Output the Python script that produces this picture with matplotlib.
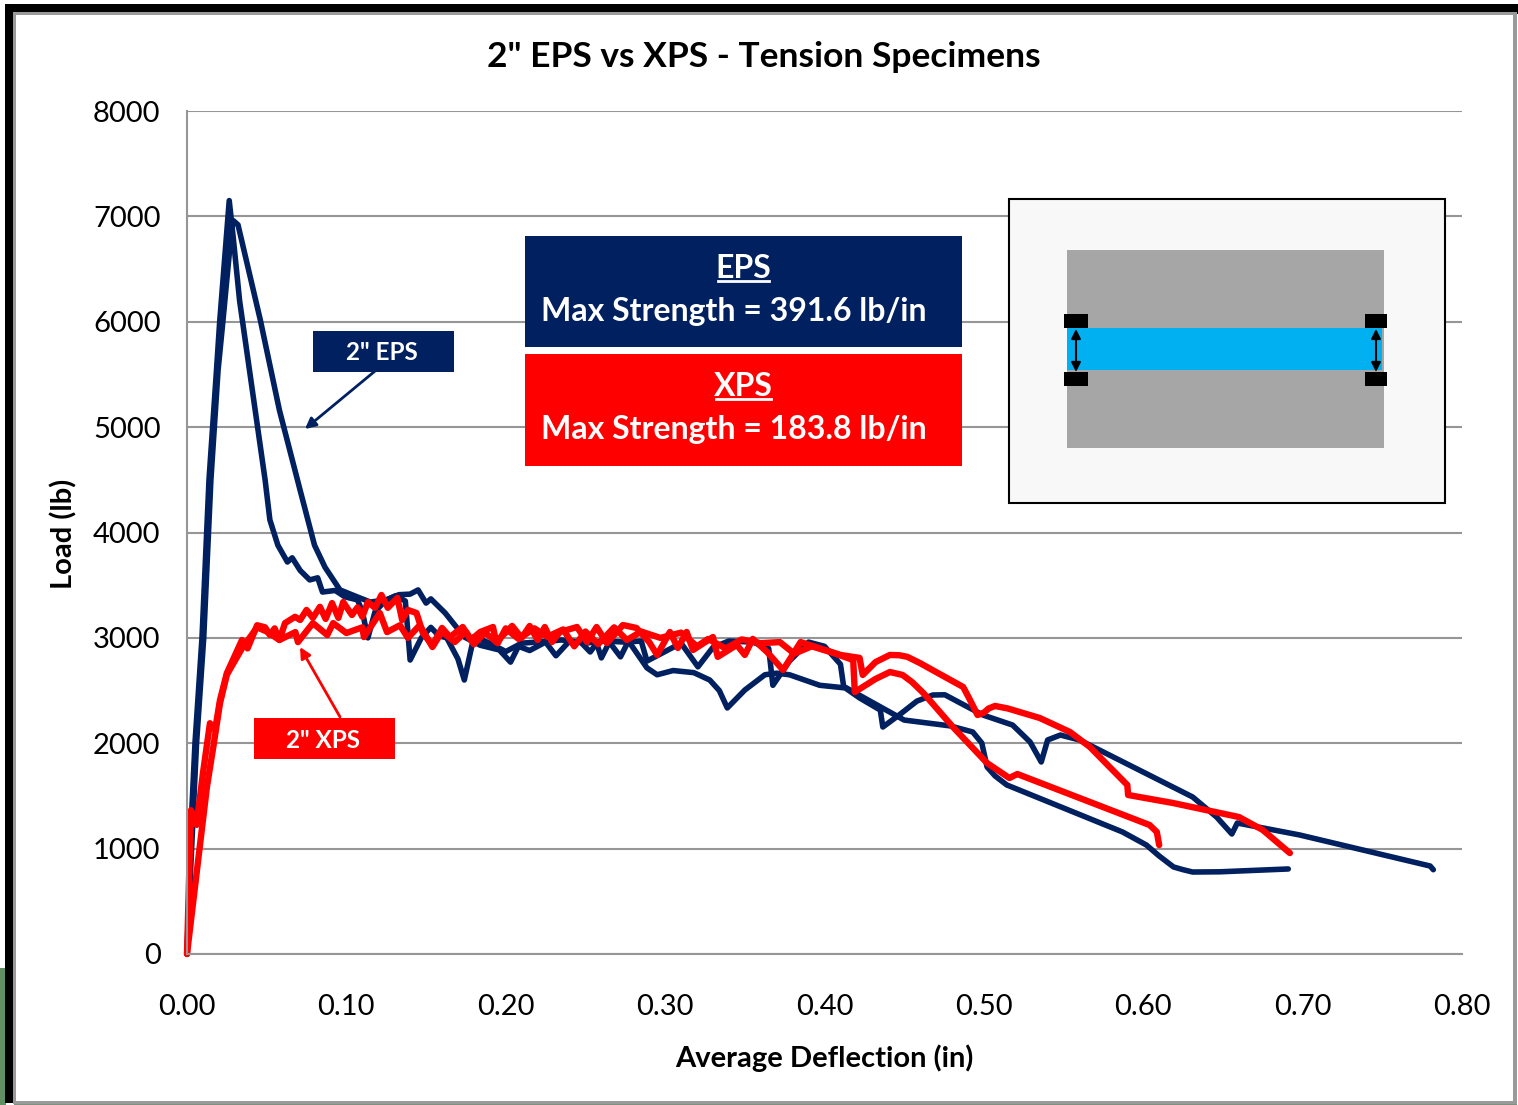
import matplotlib
matplotlib.use("Agg")
import matplotlib.pyplot as plt
from matplotlib.patches import Rectangle, FancyArrowPatch

# Kurven: Weg (in), Last (lb)
eps1_x = [0, 0.002, 0.004, 0.006, 0.0105, 0.015, 0.0195, 0.0225, 0.0275, 0.029, 0.032, 0.046, 0.058, 0.071, 0.080, 0.0866, 0.096, 0.105,
          0.115, 0.125, 0.133, 0.14, 0.145, 0.15, 0.153, 0.162, 0.174, 0.184, 0.196, 0.203, 0.208, 0.215, 0.225, 0.2315, 0.24,
          0.247, 0.253, 0.257, 0.26, 0.265, 0.272, 0.277, 0.2886, 0.295, 0.305, 0.318, 0.328, 0.334, 0.339, 0.35, 0.3626, 0.37, 0.378,
          0.397, 0.413, 0.422, 0.435, 0.4366, 0.447, 0.458, 0.468, 0.4755, 0.4994, 0.518, 0.529, 0.536, 0.54, 0.548, 0.56, 0.631,
          0.646, 0.6556, 0.659, 0.698, 0.78, 0.782]
eps1_y = [0, 700, 1365, 2000, 3000, 4500, 5540, 6000, 6800, 6960, 6920, 6017, 5160, 4400, 3880, 3670, 3455, 3400,
          3340, 3360, 3410, 3415, 3455, 3330, 3370, 3236, 3008, 2930, 2885, 2770, 2920, 2880, 2960, 2830, 2970,
          2960, 2866, 2950, 2810, 2960, 2820, 2970, 2715, 2650, 2690, 2670, 2600, 2500, 2335, 2505, 2650, 2665, 2650,
          2550, 2525, 2430, 2315, 2154, 2270, 2400, 2458, 2460, 2268, 2173, 2012, 1822, 2031, 2078, 2031, 1490,
          1300, 1139, 1243, 1130, 835, 800]

eps2_x = [0, 0.003, 0.005, 0.0094, 0.0138, 0.0185, 0.0205, 0.0265, 0.029, 0.033, 0.049, 0.052, 0.057, 0.063, 0.066, 0.071, 0.077, 0.082,
          0.085, 0.093, 0.099, 0.107, 0.11, 0.1135, 0.118, 0.125, 0.131, 0.137, 0.14, 0.147, 0.153, 0.158, 0.163, 0.17, 0.174,
          0.18, 0.19, 0.2, 0.21, 0.22, 0.235, 0.25, 0.262, 0.275, 0.285, 0.2886, 0.31, 0.3206, 0.33, 0.34, 0.355, 0.365, 0.3676,
          0.378, 0.39, 0.4, 0.41, 0.412, 0.425, 0.45, 0.4787, 0.493, 0.4987, 0.502, 0.507, 0.5144, 0.587, 0.602, 0.61, 0.619, 0.625, 0.631, 0.648, 0.691]
eps2_y = [0, 1365, 2000, 3000, 4500, 5540, 6000, 7150, 6800, 6200, 4500, 4120, 3880, 3720, 3760, 3640, 3550, 3570,
          3435, 3450, 3390, 3360, 3250, 3000, 3250, 3360, 3400, 3350, 2790, 3000, 3100, 3020, 3000, 2800, 2600,
          3010, 2950, 2870, 2950, 2960, 2980, 2950, 2970, 2960, 2970, 2780, 2950, 2725, 2910, 2970, 2960, 2900, 2550,
          2780, 2960, 2920, 2750, 2540, 2430, 2220, 2165, 2107, 2002, 1775, 1690, 1604, 1158, 1034, 930, 826, 800, 778, 780, 807]

xps1_x = [0, 0.0025, 0.006, 0.010, 0.0144, 0.0176, 0.0207, 0.025, 0.0345, 0.038, 0.044, 0.049, 0.052, 0.055, 0.058, 0.0615, 0.0678,
          0.071, 0.075, 0.079, 0.0834, 0.087, 0.091, 0.095, 0.098, 0.1035, 0.107, 0.11, 0.1135, 0.118, 0.122, 0.126, 0.132, 0.135,
          0.1386, 0.144, 0.148, 0.154, 0.16, 0.165, 0.173, 0.178, 0.184, 0.192, 0.194, 0.204, 0.21, 0.215, 0.22, 0.2245, 0.229, 0.234,
          0.2447, 0.251, 0.257, 0.2635, 0.2735, 0.282, 0.29, 0.295, 0.303, 0.308, 0.3135, 0.3175, 0.33, 0.333, 0.345, 0.35, 0.355,
          0.364, 0.374, 0.385, 0.41, 0.422, 0.424, 0.432, 0.441, 0.447, 0.452, 0.46, 0.47, 0.487, 0.491, 0.496, 0.5, 0.503, 0.507, 0.515, 0.535, 0.554, 0.5665, 0.59, 0.5905,
          0.6186, 0.66, 0.675, 0.692]
xps1_y = [0, 1365, 1225, 1715, 2190, 2125, 2410, 2665, 2980, 2900, 3120, 3100, 3027, 3090, 2980, 3140, 3200,
          3170, 3265, 3190, 3295, 3180, 3330, 3190, 3340, 3217, 3290, 3200, 3340, 3285, 3407, 3285, 3380, 3170,
          3265, 3236, 3046, 2930, 3094, 3008, 3103, 2980, 3056, 3103, 2960, 3113, 3000, 3113, 2980, 3103, 2960, 3056,
          3103, 2960, 3103, 2950, 3122, 3094, 2960, 2838, 3056, 2904, 3056, 2885, 3008, 2820, 2933, 2838, 2990,
          2866, 2695, 2960, 2838, 2810, 2648, 2770, 2838, 2835, 2820, 2760, 2676, 2534, 2420, 2268, 2290, 2330, 2354, 2330, 2240, 2107, 1965, 1604, 1509,
          1433, 1300, 1177, 958]

xps2_x = [0, 0.007, 0.0125, 0.0165, 0.0207, 0.025, 0.0345, 0.044, 0.05, 0.058, 0.068, 0.0696, 0.079, 0.088, 0.0917, 0.1, 0.11, 0.111,
          0.121, 0.1255, 0.1336, 0.1386, 0.146, 0.154, 0.16, 0.168, 0.175, 0.18, 0.187, 0.195, 0.2, 0.208, 0.218, 0.226, 0.236, 0.243,
          0.25, 0.258, 0.268, 0.276, 0.285, 0.297, 0.31, 0.32, 0.327, 0.338, 0.348, 0.36, 0.372, 0.381, 0.392, 0.405, 0.418, 0.419,
          0.432, 0.441, 0.449, 0.455, 0.462, 0.4806, 0.502, 0.516, 0.521, 0.604, 0.6085, 0.61]
xps2_y = [0, 890, 1585, 1965, 2380, 2650, 2900, 3100, 3060, 2980, 3055, 2960, 3140, 3027, 3140, 3046, 3100, 3008,
          3236, 3055, 3120, 3000, 3120, 2913, 3060, 2960, 3060, 2940, 3050, 2950, 3090, 2990, 3090, 3010, 3080, 2920,
          3060, 2940, 3100, 2980, 3060, 3000, 3050, 2920, 2990, 2900, 2985, 2950, 2960, 2850, 2920, 2860, 2790, 2486,
          2610, 2676, 2648, 2580, 2477, 2154, 1812, 1670, 1708, 1224, 1158, 1034]

x_ticks = [0.00, 0.10, 0.20, 0.30, 0.40, 0.50, 0.60, 0.70, 0.80]
y_ticks = [0, 1000, 2000, 3000, 4000, 5000, 6000, 7000, 8000]

NAVY = "#002060"
RED = "#ff0000"
plt.rcParams['font.family'] = ['Lato', 'DejaVu Sans']

W, H = 1518, 1105
fig = plt.figure(figsize=(W / 100, H / 100), dpi=100, facecolor="white")


def px_rect(x0, y0, x1, y1, **kw):
    # Rechteck in Bildpixeln, y von oben
    r = Rectangle((x0 / W, 1 - y1 / H), (x1 - x0) / W, (y1 - y0) / H, transform=fig.transFigure, **kw)
    fig.add_artist(r)
    return r


def px_text(x, y, s, **kw):
    return fig.text(x / W, 1 - y / H, s, ha="center", va="center", **kw)


# Rahmen und Hintergrund
px_rect(0, 968, 6, 1105, fc="#5f8f63", ec="none")
px_rect(5, 4, 1518, 1103, fc="black", ec="none")
px_rect(14, 1102, 1518, 1105, fc="#7f8f80", ec="none")
px_rect(1517, 14, 1518, 1105, fc="white", ec="none")
px_rect(13, 12, 1517, 1104, fc="#9a9a9a", ec="none")
px_rect(16, 15, 1513, 1101, fc="white", ec="none")

ax = fig.add_axes([187 / W, 1 - 954 / H, (1462 - 187) / W, (954 - 111) / H])
ax.set_facecolor("none")
ax.set_xlim(0, 0.8)
ax.set_ylim(0, 8000)
ax.set_xticks(x_ticks)
ax.set_yticks(y_ticks)
ax.set_xticklabels([f"{v:.2f}" for v in x_ticks])
ax.tick_params(length=0, labelsize=21, colors="black")
ax.tick_params(axis="x", pad=29)
ax.tick_params(axis="y", pad=19)
ax.grid(axis="y", color="#969696", lw=1.5)
ax.set_axisbelow(True)
for s in ["top", "right"]:
    ax.spines[s].set_visible(False)
for s in ["left", "bottom"]:
    ax.spines[s].set_color("#969696")
    ax.spines[s].set_linewidth(1.5)

ax.plot(eps1_x, eps1_y, color=NAVY, lw=4, solid_joinstyle="round", solid_capstyle="round", clip_on=False)
ax.plot(eps2_x, eps2_y, color=NAVY, lw=4, solid_joinstyle="round", solid_capstyle="round", clip_on=False)
ax.plot(xps1_x, xps1_y, color=RED, lw=4.6, solid_joinstyle="round", solid_capstyle="round", clip_on=False)
ax.plot(xps2_x, xps2_y, color=RED, lw=4.6, solid_joinstyle="round", solid_capstyle="round", clip_on=False)

px_text(764, 57, "2\" EPS vs XPS - Tension Specimens", fontsize=25.5, fontweight="bold")
px_text(824, 1058, "Average Deflection (in)", fontsize=21, fontweight="bold")
px_text(64, 534, "Load (lb)", fontsize=21, fontweight="bold", rotation=90)

# Beschriftungen mit Pfeil
ax.annotate("", xy=(0.074, 4982), xytext=(0.1186, 5540),
            arrowprops=dict(arrowstyle="-|>", color=NAVY, lw=2, mutation_scale=16, shrinkA=0, shrinkB=0))
ax.annotate("", xy=(0.0709, 2913), xytext=(0.096, 2250),
            arrowprops=dict(arrowstyle="-|>", color=RED, lw=2, mutation_scale=16, shrinkA=0, shrinkB=0))
ax.set_zorder(1)
px_rect(313, 331, 454, 372, fc=NAVY, ec="none", zorder=5)
px_rect(254, 718, 395, 759, fc=RED, ec="none", zorder=5)
px_text(382, 352, "2\" EPS", fontsize=17.5, fontweight="bold", color="white", zorder=6)
px_text(323, 740, "2\" XPS", fontsize=17.5, fontweight="bold", color="white", zorder=6)

# Infokaesten
px_rect(525, 236, 962, 347, fc=NAVY, ec="none", zorder=5)
px_rect(525, 354, 962, 466, fc=RED, ec="none", zorder=5)
px_text(743, 268, "EPS", fontsize=23, fontweight="bold", color="white", zorder=6)
px_text(734, 311, "Max Strength = 391.6 lb/in", fontsize=23, fontweight="bold", color="white", zorder=6)
px_text(743, 386, "XPS", fontsize=23, fontweight="bold", color="white", zorder=6)
px_text(734, 429, "Max Strength = 183.8 lb/in", fontsize=23, fontweight="bold", color="white", zorder=6)
for x0, x1, y in [(718, 769, 281), (716, 771, 399)]:
    fig.add_artist(plt.Line2D([x0 / W, x1 / W], [1 - y / H] * 2, color="white", lw=2, zorder=6))

# Skizze des Probekoerpers
px_rect(1009, 199, 1445, 503, fc="#f8f8f8", ec="black", lw=1.5, zorder=5)
px_rect(1067, 250, 1384, 448, fc="#a6a6a6", ec="none", zorder=6)
px_rect(1067, 328, 1382, 370, fc="#00b0f0", ec="none", zorder=7)
for x0, x1 in [(1064, 1088), (1365, 1387)]:
    px_rect(x0, 314, x1, 328, fc="black", ec="none", zorder=8)
    px_rect(x0, 372, x1, 386, fc="black", ec="none", zorder=8)
for xm in [1076, 1376]:
    a = FancyArrowPatch((xm / W, 1 - 329 / H), (xm / W, 1 - 372 / H), transform=fig.transFigure,
                        arrowstyle="<|-|>", color="black", lw=1.5, mutation_scale=14,
                        shrinkA=0, shrinkB=0, zorder=9)
    fig.add_artist(a)

fig.savefig("out.png", dpi=100)
